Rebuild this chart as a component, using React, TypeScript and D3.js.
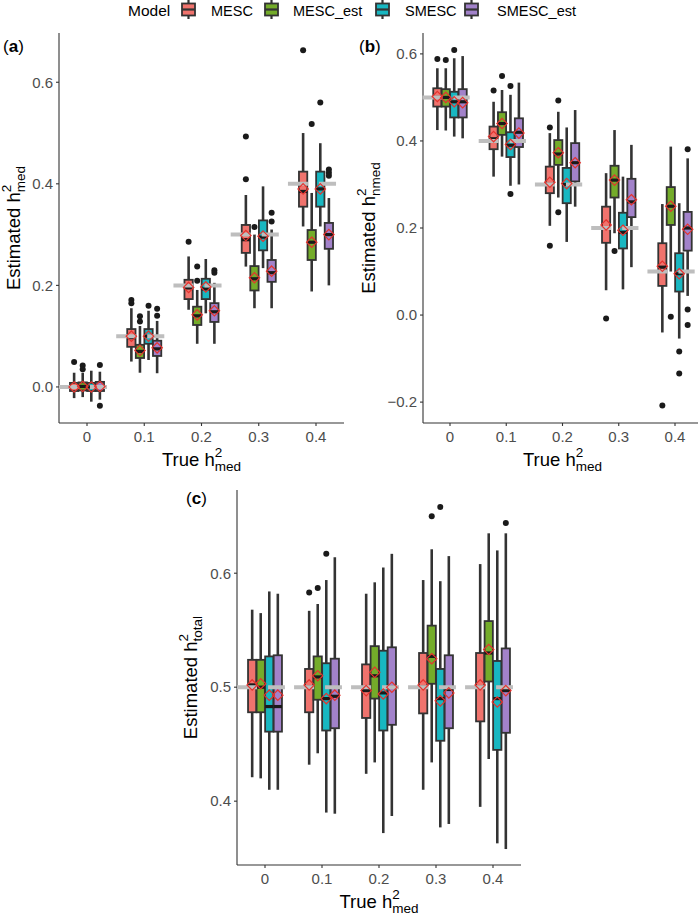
import React from "react";
import * as d3 from "d3";

// ---------- DATA ----------
const categories = ["0", "0.1", "0.2", "0.3", "0.4"];
const models = ["MESC", "MESC_est", "SMESC", "SMESC_est"];
const modelColors = ["#F0736D", "#74AC2A", "#18B7C1", "#A282CA"];

const truthA = [0, 0.1, 0.2, 0.3, 0.4];
const truthB = [0.5, 0.4, 0.3, 0.2, 0.1];
const truthC = [0.5, 0.5, 0.5, 0.5, 0.5];

// each tuple: [whiskerLow, q1, median, q3, whiskerHigh, mean]
const aMESC = [
  [-0.022, -0.008, 0.0, 0.008, 0.028, 0.0],
  [0.05, 0.079, 0.097, 0.114, 0.155, 0.1],
  [0.152, 0.173, 0.195, 0.211, 0.257, 0.196],
  [0.237, 0.264, 0.29, 0.319, 0.378, 0.298],
  [0.316, 0.355, 0.385, 0.424, 0.5, 0.39],
];
const aMESCest = [
  [-0.02, -0.007, 0.001, 0.009, 0.028, 0.001],
  [0.028, 0.057, 0.07, 0.083, 0.12, 0.072],
  [0.085, 0.122, 0.14, 0.158, 0.191, 0.142],
  [0.155, 0.19, 0.213, 0.238, 0.3, 0.215],
  [0.188, 0.25, 0.285, 0.309, 0.382, 0.285],
];
const aSMESC = [
  [-0.029, -0.008, 0.0, 0.008, 0.032, 0.0],
  [0.053, 0.085, 0.1, 0.114, 0.15, 0.1],
  [0.145, 0.173, 0.193, 0.213, 0.252, 0.197],
  [0.234, 0.269, 0.295, 0.328, 0.395, 0.297],
  [0.316, 0.355, 0.39, 0.424, 0.48, 0.39],
];
const aSMESCest = [
  [-0.025, -0.008, 0.0, 0.01, 0.03, 0.001],
  [0.027, 0.061, 0.075, 0.091, 0.13, 0.077],
  [0.085, 0.128, 0.148, 0.165, 0.205, 0.15],
  [0.155, 0.207, 0.225, 0.25, 0.31, 0.228],
  [0.2, 0.272, 0.3, 0.323, 0.372, 0.3],
];
// [categoryIndex, modelIndex, value]
const aOutliers = [
  [0, 0, 0.049], [0, 1, 0.042], [0, 1, 0.035], [0, 3, 0.043], [0, 3, -0.037],
  [1, 0, 0.171], [1, 0, 0.165], [1, 1, 0.139], [1, 1, 0.129], [1, 2, 0.16], [1, 3, 0.154], [1, 3, 0.14],
  [2, 0, 0.286], [2, 1, 0.237], [2, 1, 0.209], [2, 3, 0.23], [2, 3, 0.225],
  [3, 0, 0.493], [3, 0, 0.409], [3, 1, 0.315], [3, 3, 0.343], [3, 3, 0.326],
  [4, 0, 0.663], [4, 1, 0.518], [4, 2, 0.56], [4, 3, 0.428], [4, 3, 0.422], [4, 3, 0.416],
];

const bMESC = [
  [0.425, 0.479, 0.5, 0.521, 0.567, 0.502],
  [0.318, 0.381, 0.405, 0.433, 0.49, 0.41],
  [0.205, 0.28, 0.3, 0.341, 0.418, 0.305],
  [0.057, 0.166, 0.2, 0.249, 0.326, 0.207],
  [-0.04, 0.067, 0.11, 0.165, 0.255, 0.112],
];
const bMESCest = [
  [0.424, 0.479, 0.5, 0.519, 0.567, 0.5],
  [0.364, 0.414, 0.44, 0.466, 0.517, 0.44],
  [0.27, 0.345, 0.37, 0.402, 0.467, 0.373],
  [0.188, 0.27, 0.31, 0.343, 0.425, 0.31],
  [0.1, 0.207, 0.25, 0.294, 0.387, 0.25],
];
const bSMESC = [
  [0.41, 0.454, 0.49, 0.513, 0.59, 0.49],
  [0.297, 0.363, 0.39, 0.42, 0.506, 0.392],
  [0.168, 0.257, 0.3, 0.338, 0.431, 0.302],
  [0.059, 0.153, 0.19, 0.235, 0.318, 0.195],
  [-0.054, 0.054, 0.095, 0.142, 0.257, 0.095],
];
const bSMESCest = [
  [0.406, 0.454, 0.49, 0.519, 0.595, 0.488],
  [0.3, 0.386, 0.42, 0.452, 0.534, 0.418],
  [0.249, 0.307, 0.35, 0.395, 0.471, 0.35],
  [0.11, 0.225, 0.26, 0.313, 0.391, 0.265],
  [0.044, 0.148, 0.2, 0.237, 0.36, 0.197],
];
const bOutliers = [
  [0, 0, 0.588], [0, 1, 0.586], [0, 2, 0.609],
  [1, 0, 0.516], [1, 1, 0.549], [1, 2, 0.526], [1, 2, 0.278],
  [2, 0, 0.431], [2, 0, 0.159], [2, 1, 0.493], [2, 1, 0.236],
  [3, 0, -0.008], [3, 1, 0.147],
  [4, 0, -0.208], [4, 1, -0.004], [4, 2, -0.084], [4, 2, -0.134], [4, 3, 0.381], [4, 3, 0.013], [4, 3, -0.023],
];

const cMESC = [
  [0.421, 0.478, 0.502, 0.524, 0.568, 0.502],
  [0.432, 0.478, 0.5, 0.516, 0.567, 0.502],
  [0.424, 0.473, 0.497, 0.52, 0.582, 0.497],
  [0.41, 0.477, 0.5, 0.53, 0.594, 0.502],
  [0.395, 0.47, 0.5, 0.53, 0.608, 0.502],
];
const cMESCest = [
  [0.42, 0.478, 0.5, 0.524, 0.565, 0.503],
  [0.442, 0.489, 0.509, 0.527, 0.573, 0.51],
  [0.434, 0.49, 0.51, 0.536, 0.592, 0.513],
  [0.434, 0.503, 0.527, 0.554, 0.621, 0.525],
  [0.437, 0.505, 0.53, 0.558, 0.635, 0.533],
];
const cSMESC = [
  [0.41, 0.461, 0.483, 0.527, 0.584, 0.493],
  [0.39, 0.462, 0.49, 0.521, 0.594, 0.49],
  [0.372, 0.462, 0.495, 0.532, 0.605, 0.494],
  [0.377, 0.453, 0.49, 0.516, 0.593, 0.488],
  [0.363, 0.445, 0.49, 0.523, 0.62, 0.487],
];
const cSMESCest = [
  [0.41, 0.461, 0.483, 0.528, 0.582, 0.493],
  [0.389, 0.464, 0.492, 0.525, 0.614, 0.493],
  [0.387, 0.467, 0.5, 0.535, 0.617, 0.5],
  [0.38, 0.464, 0.498, 0.528, 0.615, 0.495],
  [0.358, 0.46, 0.497, 0.534, 0.635, 0.497],
];
const cOutliers = [
  [1, 0, 0.583], [1, 1, 0.587], [1, 2, 0.617],
  [3, 1, 0.65], [3, 2, 0.658], [4, 3, 0.644],
];

const aTicks = [0, 0.2, 0.4, 0.6];
const bTicks = [-0.2, 0, 0.2, 0.4, 0.6];
const cTicks = [0.4, 0.5, 0.6];

// ---------- STYLE ----------
const FONT = "'Liberation Sans', Arial, Helvetica, sans-serif";
const DARK = "#333333";
const TICKCOL = "#4D4D4D";

const fmtTick = (v: number) => {
  const s = d3.format(".1f")(Math.abs(v));
  return v < 0 ? "\u2212" + s : s;
};

function HTitle({ x, y, sub, rotate }: { x: number; y: number; sub: string; rotate?: boolean }) {
  const text = rotate ? "Estimated h" : "True h";
  return (
    <text
      x={x}
      y={y}
      textAnchor="middle"
      fontSize={18.5}
      fill="#000"
      fontFamily={FONT}
      transform={rotate ? `rotate(-90 ${x} ${y})` : undefined}
    >
      {text}
      <tspan fontSize={13.5} dy={-9}>2</tspan>
      <tspan fontSize={13.5} dx={-7.5} dy={14}>{sub}</tspan>
    </text>
  );
}

type PanelProps = {
  label: string;
  labelX: number;
  labelY: number;
  axisLeft: number;
  axisRight: number;
  top: number;
  bottom: number;
  firstX: number;
  lastX: number;
  yDomain: [number, number];
  ticks: number[];
  stats: number[][][];
  outliers: number[][];
  truth: number[];
  yTitleX: number;
  yTitleSub: string;
};

function Panel(p: PanelProps) {
  const x = d3.scalePoint<string>().domain(categories).range([p.firstX, p.lastX]);
  const y = d3.scaleLinear().domain(p.yDomain).range([p.bottom, p.top]);
  const step = x.step();
  const dodge = step * 0.15;
  const bw = step * 0.145;
  const off = (m: number) => (m - 1.5) * dodge;
  const half = 5.2;

  const boxes: JSX.Element[] = [];
  const medians: JSX.Element[] = [];
  const means: JSX.Element[] = [];
  p.stats.forEach((rows, m) => {
    rows.forEach((s, c) => {
      const cx = (x(categories[c]) as number) + off(m);
      const [lo, q1, med, q3, hi, mean] = s;
      boxes.push(
        <g key={`b${m}-${c}`}>
          <line x1={cx} x2={cx} y1={y(hi)} y2={y(q3)} stroke={DARK} strokeWidth={2.6} />
          <line x1={cx} x2={cx} y1={y(q1)} y2={y(lo)} stroke={DARK} strokeWidth={2.6} />
          <rect
            x={cx - bw / 2}
            y={y(q3)}
            width={bw}
            height={Math.max(0.5, y(q1) - y(q3))}
            fill={modelColors[m]}
            stroke={DARK}
            strokeWidth={1.8}
          />
        </g>
      );
      medians.push(
        <line key={`m${m}-${c}`} x1={cx - bw / 2} x2={cx + bw / 2} y1={y(med)} y2={y(med)} stroke="#1a1a1a" strokeWidth={3.2} />
      );
      const my = y(mean);
      means.push(
        <path
          key={`d${m}-${c}`}
          d={`M${cx},${my - half}L${cx + half},${my}L${cx},${my + half}L${cx - half},${my}Z`}
          fill="none"
          stroke="#E5332E"
          strokeWidth={1.2}
        />
      );
    });
  });

  return (
    <g>
      {/* axes */}
      <line x1={p.axisLeft} x2={p.axisLeft} y1={p.top} y2={p.bottom} stroke={DARK} strokeWidth={1.1} />
      <line x1={p.axisLeft} x2={p.axisRight} y1={p.bottom} y2={p.bottom} stroke={DARK} strokeWidth={1.1} />
      {p.ticks.map((t) => (
        <g key={`yt${t}`}>
          <line x1={p.axisLeft - 3} x2={p.axisLeft} y1={y(t)} y2={y(t)} stroke={DARK} strokeWidth={1.1} />
          <text
            x={p.axisLeft - 6}
            y={y(t) + 5.3}
            textAnchor="end"
            fontSize={15}
            fill={TICKCOL}
            fontFamily={FONT}
          >
            {fmtTick(t)}
          </text>
        </g>
      ))}
      {categories.map((c) => (
        <g key={`xt${c}`}>
          <line x1={x(c)} x2={x(c)} y1={p.bottom} y2={p.bottom + 3} stroke={DARK} strokeWidth={1.1} />
          <text x={x(c)} y={p.bottom + 18.5} textAnchor="middle" fontSize={15} fill={TICKCOL} fontFamily={FONT}>
            {c}
          </text>
        </g>
      ))}
      {boxes}
      {medians}
      {/* true value reference */}
      {categories.map((c, i) => {
        const cx = x(c) as number;
        return (
          <line
            key={`g${c}`}
            x1={cx - 0.49 * step}
            x2={cx + 0.35 * step}
            y1={y(p.truth[i])}
            y2={y(p.truth[i])}
            stroke="#BEBEBE"
            strokeWidth={4}
            strokeDasharray="20,11"
          />
        );
      })}
      {means}
      {p.outliers.map(([c, m, v], i) => (
        <circle key={`o${i}`} cx={(x(categories[c]) as number) + off(m)} cy={y(v)} r={3} fill="#1a1a1a" />
      ))}
      {/* panel label */}
      <text x={p.labelX} y={p.labelY} fontSize={17} fontFamily={FONT} fill="#000">
        (<tspan fontWeight="bold">{p.label}</tspan>)
      </text>
      <HTitle x={p.yTitleX} y={(p.top + p.bottom) / 2} sub={p.yTitleSub} rotate />
      <HTitle x={(p.axisLeft + p.axisRight) / 2} y={p.bottom + 43} sub="med" />
    </g>
  );
}

function Legend() {
  const keyX = [181, 264, 375, 464];
  const textX = [211, 293, 405, 497];
  return (
    <g fontFamily={FONT}>
      <text x={128} y={16} fontSize={15.5} fill="#000">Model</text>
      {models.map((m, i) => (
        <g key={m}>
          <line x1={keyX[i] + 7.5} x2={keyX[i] + 7.5} y1={0} y2={19} stroke={DARK} strokeWidth={2.2} />
          <rect x={keyX[i] + 1} y={3.5} width={13} height={12} fill={modelColors[i]} stroke={DARK} strokeWidth={1.8} />
          <line x1={keyX[i] + 1} x2={keyX[i] + 14} y1={9.5} y2={9.5} stroke={DARK} strokeWidth={2.2} />
          <text x={textX[i]} y={15.5} fontSize={14.5} fill="#000">{m}</text>
        </g>
      ))}
    </g>
  );
}

export default function App() {
  return (
    <svg
      width={698}
      height={915}
      viewBox="0 0 698 915"
      style={{ position: "absolute", left: 0, top: 0, background: "#fff" }}
    >
      <rect width={698} height={915} fill="#fff" />
      <Legend />
      <Panel
        label="a"
        labelX={3}
        labelY={52}
        axisLeft={59}
        axisRight={344}
        top={33}
        bottom={423}
        firstX={87}
        lastX={316}
        yDomain={[-0.071, 0.697]}
        ticks={aTicks}
        stats={[aMESC, aMESCest, aSMESC, aSMESCest]}
        outliers={aOutliers}
        truth={truthA}
        yTitleX={20}
        yTitleSub="med"
      />
      <Panel
        label="b"
        labelX={359}
        labelY={52}
        axisLeft={423}
        axisRight={702}
        top={33}
        bottom={423}
        firstX={450}
        lastX={675}
        yDomain={[-0.248, 0.648]}
        ticks={bTicks}
        stats={[bMESC, bMESCest, bSMESC, bSMESCest]}
        outliers={bOutliers}
        truth={truthB}
        yTitleX={375}
        yTitleSub="nmed"
      />
      <Panel
        label="c"
        labelX={186}
        labelY={504}
        axisLeft={237}
        axisRight={521}
        top={490}
        bottom={865}
        firstX={265}
        lastX={493}
        yDomain={[0.344, 0.673]}
        ticks={cTicks}
        stats={[cMESC, cMESCest, cSMESC, cSMESCest]}
        outliers={cOutliers}
        truth={truthC}
        yTitleX={197}
        yTitleSub="total"
      />
    </svg>
  );
}
